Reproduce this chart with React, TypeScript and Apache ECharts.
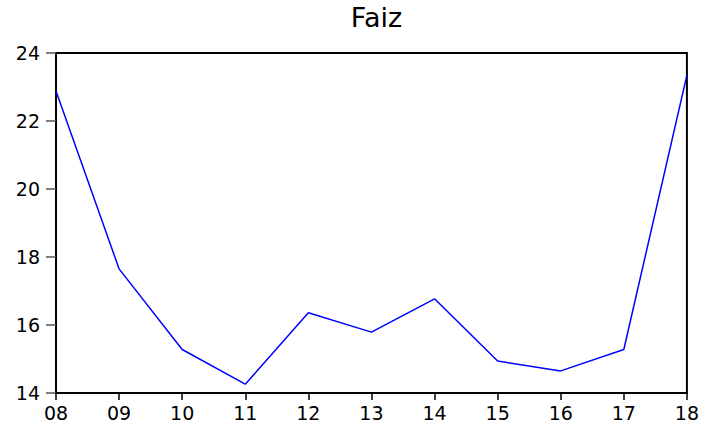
import React, { useEffect, useRef } from "react";
import * as echarts from "echarts";

const years = ["08", "09", "10", "11", "12", "13", "14", "15", "16", "17", "18"];
const faiz = [22.88, 17.65, 15.28, 14.26, 16.36, 15.79, 16.77, 14.94, 14.65, 15.28, 23.35];
const yMin = 14;
const yMax = 24;
const yStep = 2;

export default function App() {
  const ref = useRef<HTMLDivElement>(null);
  useEffect(() => {
    if (!ref.current) return;
    const chart = echarts.init(ref.current, undefined, { renderer: "svg" });
    const font = "DejaVu Sans";
    chart.setOption({
      animation: false,
      backgroundColor: "#ffffff",
      title: {
        text: "Faiz",
        left: 371.5,
        textAlign: "center",
        top: -1,
        textStyle: { fontFamily: font, fontSize: 27, fontWeight: "normal", color: "#000" },
      },
      grid: {
        left: 56,
        right: 15,
        top: 53,
        bottom: 35,
        show: true,
        borderColor: "#000",
        borderWidth: 2,
        backgroundColor: "transparent",
      },
      xAxis: {
        type: "category",
        data: years,
        boundaryGap: false,
        axisLine: { show: true, lineStyle: { color: "#000", width: 2 } },
        axisTick: { show: true, alignWithLabel: true, length: 7, lineStyle: { color: "#000", width: 1.5 } },
        axisLabel: { color: "#000", fontFamily: font, fontSize: 19, margin: 10 },
        splitLine: { show: false },
      },
      yAxis: {
        type: "value",
        min: yMin,
        max: yMax,
        interval: yStep,
        axisLine: { show: true, lineStyle: { color: "#000", width: 2 } },
        axisTick: { show: true, inside: false, length: 10, lineStyle: { color: "#555", width: 1.5 } },
        axisLabel: { color: "#000", fontFamily: font, fontSize: 19, margin: 16, padding: [0, 0, 7, 0] },
        splitLine: { show: false },
      },
      series: [
        {
          type: "line",
          data: faiz,
          symbol: "none",
          lineStyle: { color: "#0000ff", width: 1.5 },
        },
      ],
    });
    return () => chart.dispose();
  }, []);
  return <div ref={ref} style={{ width: 702, height: 428, position: "absolute", left: 0, top: 0 }} />;
}
